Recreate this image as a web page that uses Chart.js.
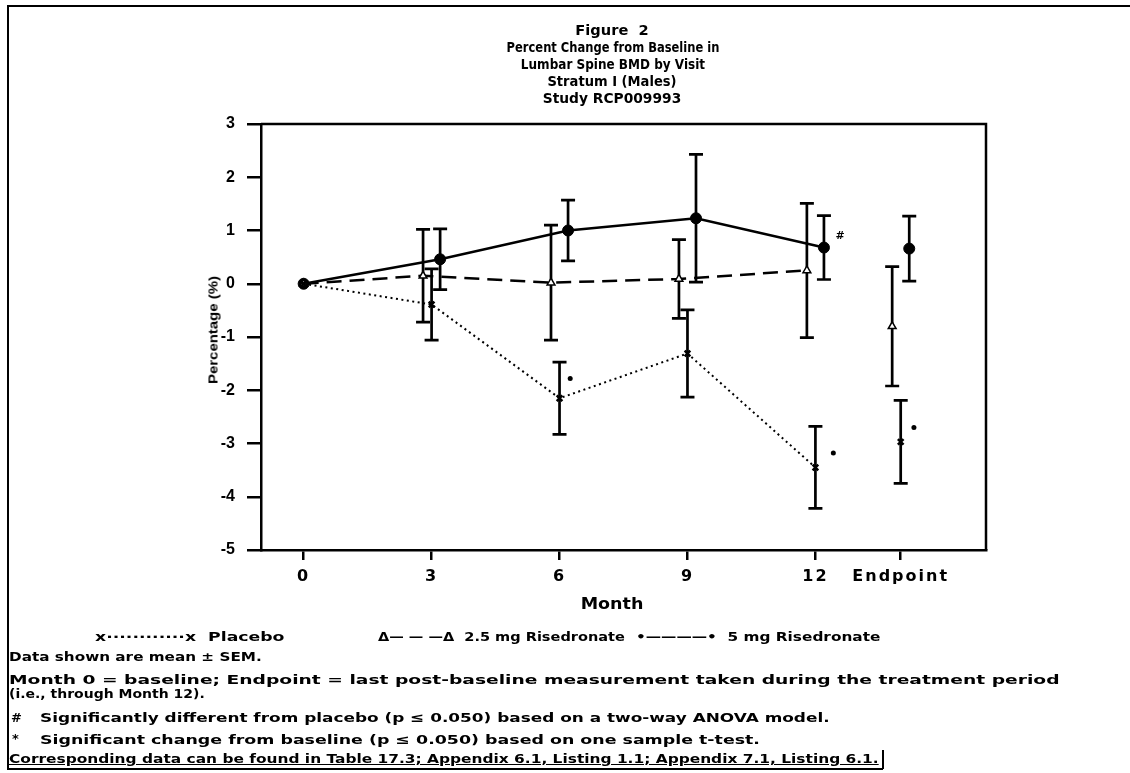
<!DOCTYPE html>
<html lang="en">
<head>
  <meta charset="UTF-8" />
  <title>Figure 2 - Lumbar Spine BMD</title>
  <script src="https://cdn.jsdelivr.net/npm/chart.js@4.4.1/dist/chart.umd.min.js"></script>
  <style>
    html, body { margin: 0; padding: 0; background: #fff; }
    .page { position: relative; width: 1130px; height: 773px; overflow: hidden; color: #000; }
    #chart { position: absolute; left: 0; top: 0; }
    .t { position: absolute; white-space: pre; font: bold 13px 'DejaVu Sans', sans-serif; line-height: 13px; }
    .l { transform-origin: 0 50%; }
    .title { font-size: 14px; line-height: 14px; }
    .frame { position: absolute; border: 0 solid #000; }
  </style>
</head>
<body>
<div class="page">
  <!-- outer frame of the scanned page -->
  <div class="frame" style="left:7px;top:5px;width:1123px;height:763px;border-left-width:2px;border-top-width:2px"></div>
  <div class="frame" style="left:7px;top:768px;width:876px;border-top-width:2px"></div>
  <div class="frame" style="left:882px;top:750px;height:19px;border-left-width:2px"></div>

  <canvas id="chart" width="1130" height="773"></canvas>

  <!-- ==== TITLE ==== -->
  <div class="t title" style="left:612px;top:23px" data-w="73" data-t="translateX(-50%)">Figure  2</div>
  <div class="t title" style="left:613px;top:40px" data-w="213" data-t="translateX(-50%)">Percent Change from Baseline in</div>
  <div class="t title" style="left:613px;top:57px" data-w="184" data-t="translateX(-50%)">Lumbar Spine BMD by Visit</div>
  <div class="t title" style="left:612px;top:74px" data-w="129" data-t="translateX(-50%)">Stratum I (Males)</div>
  <div class="t title" style="left:612px;top:91px" data-w="139" data-t="translateX(-50%)">Study RCP009993</div>

  <!-- ==== AXIS TITLES ==== -->
  <div class="t" style="left:213px;top:330px;font:bold 13px 'Liberation Sans Narrow','Liberation Sans',sans-serif;line-height:13px"
       data-w="108" data-t="translate(-50%,-50%) rotate(-90deg)">Percentage (%)</div>
  <div class="t" style="left:612px;top:597px;font-size:15px;line-height:15px" data-w="63" data-t="translateX(-50%)">Month</div>

  <!-- ==== LEGEND ==== -->
  <div class="t l" style="left:95px;top:630px" data-w="190">x············x  Placebo</div>
  <div class="t l" style="left:378px;top:630px" data-w="247">Δ— — —Δ  2.5 mg Risedronate</div>
  <div class="t l" style="left:636px;top:630px" data-w="244">•————•  5 mg Risedronate</div>

  <!-- ==== FOOTNOTES ==== -->
  <div class="t l" style="left:9px;top:650px" data-w="253">Data shown are mean ± SEM.</div>
  <div class="t l" style="left:9px;top:673px" data-w="1050">Month 0 = baseline; Endpoint = last post-baseline measurement taken during the treatment period</div>
  <div class="t l" style="left:9px;top:687px" data-w="196">(i.e., through Month 12).</div>
  <div class="t l" style="left:11px;top:711px">#</div>
  <div class="t l" style="left:40px;top:711px" data-w="790">Significantly different from placebo (p ≤ 0.050) based on a two-way ANOVA model.</div>
  <div class="t l" style="left:12px;top:732px">*</div>
  <div class="t l" style="left:40px;top:733px" data-w="720">Significant change from baseline (p ≤ 0.050) based on one sample t-test.</div>
  <div class="t l" style="left:9px;top:752px;text-decoration:underline" data-w="870">Corresponding data can be found in Table 17.3; Appendix 6.1, Listing 1.1; Appendix 7.1, Listing 6.1.</div>
</div>

<script>
  // ---- data ----
  const months = [0, 3, 6, 9, 12];
  const endpointX = 14;
  const xTickValues = [0, 3, 6, 9, 12, 14];
  const xTickLabels = ['0', '3', '6', '9', '12', 'Endpoint'];

  const placeboMean = [0, -0.39, -2.15, -1.31, -3.45];
  const placeboSem  = [0, 0.67, 0.68, 0.82, 0.77];
  const placeboEnd = [-2.97];
  const placeboEndSem = [0.78];

  const mg25Mean = [0, 0.15, 0.02, 0.09, 0.25];
  const mg25Sem  = [0, 0.87, 1.08, 0.74, 1.26];
  const mg25End = [-0.80];
  const mg25EndSem = [1.12];

  const mg5Mean = [0, 0.46, 1.00, 1.23, 0.68];
  const mg5Sem  = [0, 0.57, 0.57, 1.20, 0.60];
  const mg5End = [0.66];
  const mg5EndSem = [0.61];

  // significance marks: * change from baseline, # vs placebo
  const starX = [6.25, 12.42, 14.31];
  const starY = [-1.78, -3.18, -2.70];
  const hashX = [12.58];
  const hashY = [0.90];

  // groups are drawn side by side at each visit
  const offsets = { placebo: 0, mg25: -0.2, mg5: 0.2 };

  const pts = (xs, ys, off) => xs.map((m, i) => ({ x: m === 0 ? 0 : m + off, y: ys[i] }));

  // stretch html text lines to the widths in the scan
  document.querySelectorAll('[data-w]').forEach(el => {
    const k = el.dataset.w / el.offsetWidth;
    el.style.transform = (el.dataset.t || '') + ' scaleX(' + k + ')';
  });

  const errorBars = {
    id: 'errorBars',
    beforeDatasetsDraw(chart) {
      const { ctx, scales: { x, y } } = chart;
      ctx.save();
      ctx.strokeStyle = '#000';
      ctx.lineWidth = 2.7;
      chart.data.datasets.forEach(ds => {
        if (!ds.sem) return;
        ds.data.forEach((p, i) => {
          const s = ds.sem[i];
          if (!s) return;
          const px = x.getPixelForValue(p.x);
          const top = y.getPixelForValue(p.y + s);
          const bot = y.getPixelForValue(p.y - s);
          ctx.beginPath();
          ctx.moveTo(px, top); ctx.lineTo(px, bot);
          ctx.moveTo(px - 7, top); ctx.lineTo(px + 7, top);
          ctx.moveTo(px - 7, bot); ctx.lineTo(px + 7, bot);
          ctx.stroke();
        });
      });
      ctx.restore();
    }
  };

  const boxAndMarks = {
    id: 'boxAndMarks',
    beforeDraw(chart) {
      // wide lettering for the x tick labels only (y ticks are drawn later, z = 1)
      chart.ctx.letterSpacing = '2px';
    },
    beforeDatasetsDraw(chart) {
      chart.ctx.letterSpacing = '0px';
    },
    afterDraw(chart) {
      const { ctx, chartArea: a, scales: { x, y } } = chart;
      ctx.save();
      ctx.strokeStyle = '#000';
      ctx.lineWidth = 2.5;
      ctx.beginPath();
      ctx.moveTo(a.left, a.top); ctx.lineTo(a.right, a.top); ctx.lineTo(a.right, a.bottom);
      ctx.stroke();
      ctx.font = 'bold 11px "DejaVu Sans"';
      ctx.fillStyle = '#000';
      ctx.textAlign = 'center';
      ctx.textBaseline = 'middle';
      hashX.forEach((hx, i) => ctx.fillText('#', x.getPixelForValue(hx), y.getPixelForValue(hashY[i])));
      ctx.restore();
    }
  };

  Chart.defaults.font.family = "'DejaVu Sans', sans-serif";
  Chart.defaults.color = '#000';

  new Chart(document.getElementById('chart'), {
    type: 'scatter',
    data: {
      datasets: [
        {
          label: 'Placebo', data: pts(months, placeboMean, offsets.placebo), sem: placeboSem,
          showLine: true, borderColor: '#000', borderWidth: 2, borderDash: [2, 3.5],
          pointStyle: 'crossRot', pointRadius: 4, pointBorderWidth: 2.5, backgroundColor: '#000'
        },
        {
          label: 'Placebo endpoint', data: pts([endpointX], placeboEnd, offsets.placebo), sem: placeboEndSem,
          showLine: false, borderColor: '#000',
          pointStyle: 'crossRot', pointRadius: 4, pointBorderWidth: 2.5
        },
        {
          label: '2.5 mg Risedronate', data: pts(months, mg25Mean, offsets.mg25), sem: mg25Sem,
          showLine: true, borderColor: '#000', borderWidth: 2.5, borderDash: [15, 8],
          pointStyle: 'triangle', pointRadius: 4.5, pointBorderWidth: 1.5, backgroundColor: '#fff'
        },
        {
          label: '2.5 mg endpoint', data: pts([endpointX], mg25End, offsets.mg25), sem: mg25EndSem,
          showLine: false, borderColor: '#000',
          pointStyle: 'triangle', pointRadius: 4.5, pointBorderWidth: 1.5, backgroundColor: '#fff'
        },
        {
          label: '5 mg Risedronate', data: pts(months, mg5Mean, offsets.mg5), sem: mg5Sem,
          showLine: true, borderColor: '#000', borderWidth: 2.5,
          pointStyle: 'circle', pointRadius: 5.5, pointBorderWidth: 1, backgroundColor: '#000'
        },
        {
          label: '5 mg endpoint', data: pts([endpointX], mg5End, offsets.mg5), sem: mg5EndSem,
          showLine: false, borderColor: '#000',
          pointStyle: 'circle', pointRadius: 5.5, pointBorderWidth: 1, backgroundColor: '#000'
        },
        {
          label: 'significant', data: starX.map((sx, i) => ({ x: sx, y: starY[i] })),
          showLine: false, borderColor: '#000', backgroundColor: '#000',
          pointStyle: 'circle', pointRadius: 2.5, pointBorderWidth: 0
        }
      ]
    },
    options: {
      responsive: false,
      animation: false,
      events: [],
      layout: { padding: { left: 211, right: 144, top: 124, bottom: 183 } },
      plugins: { legend: { display: false }, tooltip: { enabled: false } },
      scales: {
        x: {
          type: 'linear', min: -1, max: 16,
          afterFit: s => { s.height = 40; },
          afterBuildTicks: s => { s.ticks = xTickValues.map(v => ({ value: v })); },
          ticks: {
            callback: v => xTickLabels[xTickValues.indexOf(v)],
            font: { size: 16, weight: 'bold' }, padding: 7, maxRotation: 0, autoSkip: false
          },
          grid: { drawOnChartArea: false, tickLength: 10, lineWidth: 2.5, color: '#000' },
          border: { color: '#000', width: 2.5 }
        },
        y: {
          min: -5, max: 3,
          afterFit: s => { s.width = 50; },
          ticks: {
            stepSize: 1, padding: 12, z: 1,
            font: { family: "'Liberation Sans', Arial, sans-serif", size: 16, weight: 'bold' }
          },
          grid: { drawOnChartArea: false, tickLength: 14, lineWidth: 2.5, color: '#000' },
          border: { color: '#000', width: 2.5 }
        }
      }
    },
    plugins: [errorBars, boxAndMarks]
  });
</script>
</body>
</html>
